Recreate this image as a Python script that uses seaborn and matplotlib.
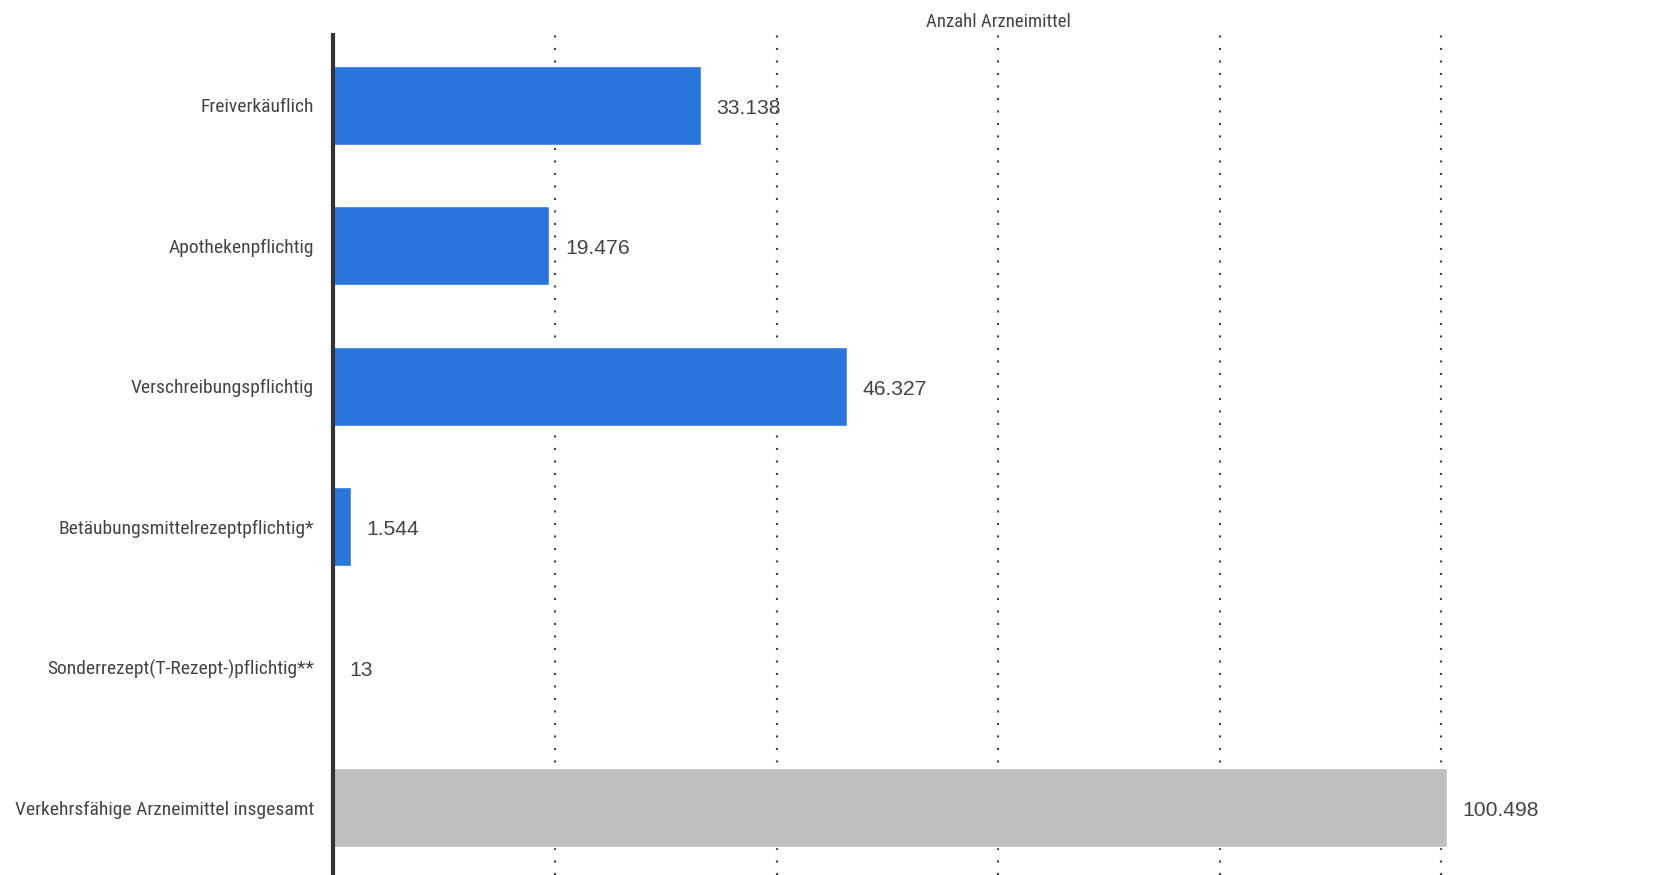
import matplotlib
matplotlib.use("Agg")
import matplotlib.pyplot as plt
import seaborn as sns
import pandas as pd
from matplotlib import font_manager

categories = [
    "Freiverkäuflich",
    "Apothekenpflichtig",
    "Verschreibungspflichtig",
    "Betäubungsmittelrezeptpflichtig*",
    "Sonderrezept(T-Rezept-)pflichtig**",
    "Verkehrsfähige Arzneimittel insgesamt",
]
values = [33138, 19476, 46327, 1544, 13, 100498]
bar_colors = ["#2a76dd", "#2a76dd", "#2a76dd", "#2a76dd", "#2a76dd", "#bfbfbf"]
x_label = "Anzahl Arzneimittel"

sns.set_theme(style="white")
plt.rcParams["font.family"] = ["Liberation Sans", "DejaVu Sans"]

# look for a condensed / narrow sans face
cond_path = None
for f in font_manager.fontManager.ttflist:
    fn = f.fname.lower()
    if ("narrow" in fn or "condensed" in fn) and "bold" not in fn and "italic" not in fn and "oblique" not in fn:
        if "liberation" in fn or "roboto" in fn or "dejavusans" in fn or "opensans" in fn:
            cond_path = f.fname
            if "liberation" in fn:
                break
if cond_path:
    lab_fp = font_manager.FontProperties(fname=cond_path, size=14)
    xl_fp = font_manager.FontProperties(fname=cond_path, size=13.5)
else:
    lab_fp = font_manager.FontProperties(family="Liberation Sans", size=12.6)
    xl_fp = font_manager.FontProperties(family="Liberation Sans", size=12.6)

df = pd.DataFrame({"cat": categories, "val": values})

fig = plt.figure(figsize=(16.55, 8.75), dpi=100)
ax = fig.add_axes([0.2015, 0.0, 0.7985, 0.96])

sns.barplot(data=df, y="cat", x="val", hue="cat", palette=bar_colors,
            orient="h", width=0.56, legend=False, ax=ax, saturation=1, zorder=3)

ax.set_xlim(0, 119300)
ax.set_ylim(5.48, -0.5)
ax.set_xticks([0, 20000, 40000, 60000, 80000, 100000])
ax.set_xticklabels([])
ax.grid(axis="x", linestyle=(0, (1, 5)), color="#444444", linewidth=1.5, zorder=0)
ax.grid(axis="y", visible=False)
ax.set_axisbelow(True)

for s in ["top", "right", "bottom"]:
    ax.spines[s].set_visible(False)
ax.spines["left"].set_color("#333333")
ax.spines["left"].set_linewidth(3)
ax.spines["left"].set_zorder(5)

ax.tick_params(axis="y", length=0, pad=14, labelcolor="#444444")
ax.tick_params(axis="x", length=0)
for lbl in ax.get_yticklabels():
    lbl.set_fontproperties(lab_fp)

ax.set_ylabel("")
ax.set_xlabel(x_label, color="#444444", fontproperties=xl_fp, labelpad=6)
ax.xaxis.set_label_position("top")
ax.xaxis.label.set_x(0.503)

for i, v in enumerate(values):
    txt = f"{v:,}".replace(",", ".")
    ax.annotate(txt, xy=(v, i), xytext=(16, -3), textcoords="offset pixels",
                va="center", ha="left", fontsize=15.2, color="#444444")

fig.savefig("out.png", dpi=100)
